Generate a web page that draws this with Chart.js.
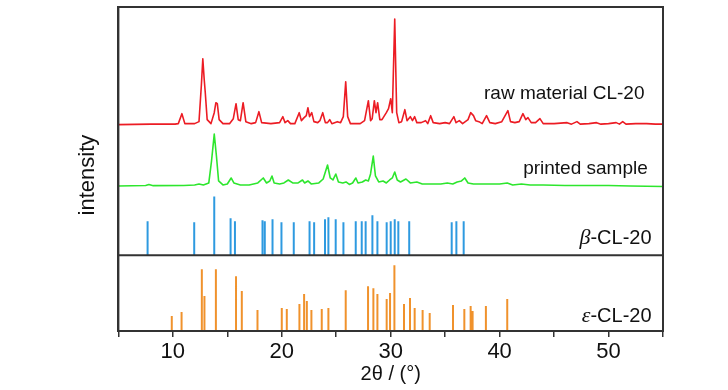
<!DOCTYPE html>
<html>
<head>
<meta charset="utf-8">
<script src="https://cdn.jsdelivr.net/npm/chart.js@4.4.0/dist/chart.umd.min.js"></script>
<style>
    html, body { margin: 0; padding: 0; background: #fff; }
    #wrap { width: 728px; height: 390px; }
</style>
</head>
<body>
<div id="wrap"><canvas id="xrd"></canvas></div>
<script>
// ==================== DATA ====================
// raw material CL-20 pattern: 2theta and relative intensity
const rawTheta = [5.0, 8.0, 10.2, 10.5, 10.83, 11.1, 12.0, 12.4, 12.62, 12.75, 12.88, 12.97, 13.15, 13.5, 13.8, 13.95, 14.08, 14.25, 14.6,
    15.2, 15.55, 15.8, 16.0, 16.2, 16.45, 16.7, 17.2, 17.6, 17.9, 18.15, 19.0, 19.8, 20.1, 20.3, 20.55, 20.8, 21.2, 21.6, 21.8,
    22.05, 22.25, 22.4, 22.55, 22.75, 22.95, 23.3, 23.5, 23.76, 24.0, 24.2, 24.4, 24.6, 25.1, 25.4, 25.65, 25.87, 26.05, 26.3,
    27.2, 27.6, 27.95, 28.15, 28.3, 28.5, 28.65, 28.8, 29.0, 29.2, 29.6, 29.8, 30.0, 30.15, 30.37, 30.55, 30.75, 31.0, 31.3,
    31.5, 31.8, 32.0, 32.2, 32.4, 32.8, 33.2, 33.4, 33.67, 33.9, 34.5, 35.0, 35.4, 35.8, 36.0, 36.3, 36.6, 37.1, 37.34, 37.6,
    37.8, 38.1, 38.4, 38.8, 39.1, 39.6, 40.2, 40.76, 41.0, 41.4, 41.8, 42.14, 42.4, 42.6, 42.9, 43.3, 43.7, 44.0, 45.0, 46.2,
    46.6, 47.1, 47.4, 48.2, 48.9, 49.3, 50.0, 50.7, 51.0, 51.3, 51.6, 52.5, 53.5, 54.3, 55.0];
const rawInt = [0, 0.5, 0.5, 1, 11, 1, 1, 3, 40, 66, 45, 33, 5, 1, 12, 22, 21, 5, 1,
    1, 6, 21, 5, 4, 22, 3, 1, 2, 13, 2, 1, 2, 8, 2, 4, 1, 1, 12, 4,
    7, 9, 17, 8, 12, 3, 2, 4, 12, 2, 2, 5, 1, 3, 2, 8, 43, 8, 1,
    1, 4, 24, 4, 6, 24, 12, 22, 5, 5, 12, 16, 26, 12, 106, 12, 2, 3, 15,
    4, 8, 4, 8, 2, 2, 4, 1, 9, 2, 1, 2, 1, 8, 2, 4, 1, 5, 12, 9,
    4, 3, 1, 9, 2, 1, 3, 14, 3, 2, 3, 11, 5, 7, 2, 2, 6, 1, 1, 2,
    0.5, 3, 0.5, 1, 2, 0.5, 1, 2, 0.5, 3, 0.5, 1, 1, 0.5, 0.5];

// printed sample pattern
const printTheta = [5.0, 7.5, 7.8, 8.2, 11.0, 12.0, 12.4, 12.8, 13.3, 13.55, 13.8, 14.0, 14.2, 14.6, 15.0, 15.35, 15.6, 16.2,
    17.0, 17.8, 18.3, 18.6, 18.9, 19.1, 19.3, 19.8, 20.2, 20.6, 21.0, 21.5, 21.9, 22.1, 22.4, 22.7, 23.4, 23.8, 24.2, 24.45,
    24.7, 24.96, 25.2, 25.6, 25.9, 26.2, 26.5, 26.8, 27.0, 27.4, 27.7, 27.95, 28.15, 28.4, 28.6, 28.9, 29.3, 29.6, 29.9,
    30.15, 30.37, 30.6, 30.9, 31.4, 31.8, 32.4, 32.9, 33.4, 34.0, 34.6, 35.2, 35.7, 36.1, 36.5, 36.8, 37.1, 37.6, 38.5,
    39.2, 40.0, 40.7, 41.2, 42.0, 42.8, 44.0, 46.0, 48.0, 50.0, 52.0, 55.0];
const printInt = [0, 0.5, 1.5, 0.3, 0.5, 1, 2, 1, 3, 25, 52, 30, 5, 1, 2, 8, 3, 1,
    1, 3, 8, 3, 5, 10, 3, 2, 3, 6, 3, 3, 6, 3, 5, 2, 3, 7, 21, 8,
    6, 12, 4, 3, 4, 1.5, 3, 8, 3, 4, 6, 5, 12, 30, 10, 4, 5, 3, 6,
    8, 14, 6, 4, 7, 3, 4, 2, 2, 2, 2, 3, 2, 4, 5, 8, 3, 2, 2,
    2, 2, 3, 1, 2, 1, 1, 0.5, 0.5, 0.5, 0, -0.5];

// beta-CL-20 reference lines
const betaTheta = [7.68, 11.96, 13.8, 15.3, 15.7, 18.23, 18.44, 19.15, 19.97, 21.1, 22.55, 22.97, 23.97, 24.28, 24.95,
    25.66, 26.79, 27.34, 27.7, 28.32, 28.78, 29.63, 30.0, 30.37, 30.7, 31.7, 35.6, 36.03, 36.7];
const betaInt = [34, 33, 59, 37, 34, 35, 34, 36, 33, 33, 34, 33, 36, 38, 36,
    33, 34, 34, 34, 40, 34, 33, 34, 36, 34, 34, 33, 34, 34];

// epsilon-CL-20 reference lines
const epsTheta = [9.9, 10.8, 12.66, 12.9, 13.95, 15.8, 16.33, 17.77, 20.0, 20.46, 21.62, 22.05, 22.3, 22.72, 23.67, 24.28,
    25.87, 27.92, 28.41, 28.78, 29.63, 29.94, 30.34, 31.22, 31.77, 32.2, 32.93, 33.58, 35.72, 36.76, 37.34, 37.52,
    38.74, 40.7];
const epsInt = [15, 19, 62, 35, 62, 55, 40, 21, 23, 22, 27, 37, 30, 21, 22, 23,
    41, 45, 43, 37, 32, 38, 66, 27, 33, 23, 21, 18, 26, 22, 25, 20,
    25, 32];

const xTicks = [10, 20, 30, 40, 50];

// ==================== LAYOUT (vertical offsets of each trace) ====================
const Y_MAX = 325;
const RAW_BASE = 207;
const PRINT_BASE = 145.5;
const BETA_BASE = 76;     // also the panel divider
const EPS_BASE = 0;

const FONT = '"Liberation Sans", Arial, sans-serif';
const NARROW = '"Liberation Sans Narrow", "Arial Narrow", "Liberation Sans", sans-serif';

function trace(theta, vals, base) {
    return theta.map((t, i) => ({ x: t, y: base + vals[i] }));
}

function sticks(theta, vals, base) {
    const pts = [];
    theta.forEach((t, i) => {
        pts.push({ x: t, y: base }, { x: t, y: base + vals[i] }, { x: t, y: null });
    });
    return pts;
}

// frame, divider and trace labels
const decorPlugin = {
    id: 'decor',
    afterDatasetsDraw(chart) {
        const { ctx, chartArea: a, scales: { x, y } } = chart;
        ctx.save();
        // divider between beta and epsilon panels
        ctx.strokeStyle = '#333';
        ctx.lineWidth = 2;
        const yd = y.getPixelForValue(BETA_BASE);
        ctx.beginPath();
        ctx.moveTo(a.left, yd);
        ctx.lineTo(a.right, yd);
        ctx.stroke();
        // box
        ctx.strokeRect(a.left, a.top, a.right - a.left, a.bottom - a.top);

        ctx.fillStyle = '#111';
        ctx.textAlign = 'right';
        ctx.textBaseline = 'alphabetic';
        ctx.font = '19px ' + FONT;
        ctx.fillText('raw material CL-20', x.getPixelForValue(53.3), y.getPixelForValue(233));
        ctx.fillText('printed sample', x.getPixelForValue(53.6), y.getPixelForValue(157));

        const greekLabel = (greek, rest, xv, yv) => {
            const px = x.getPixelForValue(xv), py = y.getPixelForValue(yv);
            ctx.font = '20px ' + FONT;
            const w = ctx.measureText(rest).width;
            ctx.fillText(rest, px, py);
            ctx.font = 'italic 22px "Liberation Serif", "Times New Roman", serif';
            ctx.fillText(greek, px - w, py);
        };
        greekLabel('\u03B2', '-CL-20', 53.95, 87);
        greekLabel('\u03B5', '-CL-20', 53.95, 9.5);
        ctx.restore();
    }
};

new Chart(document.getElementById('xrd'), {
    type: 'line',
    data: {
        datasets: [{
            label: 'raw material CL-20',
            data: trace(rawTheta, rawInt, RAW_BASE),
            borderColor: '#ec1c24',
            borderWidth: 1.6
        }, {
            label: 'printed sample',
            data: trace(printTheta, printInt, PRINT_BASE),
            borderColor: '#2de62d',
            borderWidth: 1.6
        }, {
            label: 'beta-CL-20',
            data: sticks(betaTheta, betaInt, BETA_BASE),
            borderColor: '#2e9ae0',
            borderWidth: 2,
            spanGaps: false
        }, {
            label: 'epsilon-CL-20',
            data: sticks(epsTheta, epsInt, EPS_BASE),
            borderColor: '#f0922c',
            borderWidth: 2,
            spanGaps: false
        }]
    },
    options: {
        responsive: true,
        maintainAspectRatio: false,
        animation: false,
        layout: { padding: { left: 75, right: 65, top: 7, bottom: 6 } },
        elements: {
            point: { radius: 0, hoverRadius: 0 },
            line: { tension: 0, borderCapStyle: 'butt', borderJoinStyle: 'round' }
        },
        plugins: {
            legend: { display: false },
            tooltip: { enabled: false }
        },
        scales: {
            x: {
                type: 'linear',
                min: 5,
                max: 55,
                border: { display: true, color: '#333', width: 2 },
                grid: { drawOnChartArea: false, drawTicks: true, tickLength: 6, color: '#333', lineWidth: 1.5 },
                ticks: {
                    stepSize: 5,
                    autoSkip: false,
                    maxRotation: 0,
                    padding: 4,
                    color: '#111',
                    font: { family: NARROW, size: 22, lineHeight: 1 },
                    callback: v => (xTicks.includes(v) ? v : '')
                },
                title: {
                    display: true,
                    text: '2\u03B8 / (\u00B0)',
                    color: '#111',
                    font: { family: FONT, size: 20, lineHeight: 1 },
                    padding: { top: -3, bottom: 0 }
                }
            },
            y: {
                min: 0,
                max: Y_MAX,
                border: { display: true, color: '#333', width: 2 },
                grid: { display: false, drawTicks: false },
                ticks: { display: false },
                title: {
                    display: true,
                    text: 'intensity  ',
                    color: '#111',
                    font: { family: FONT, size: 22 },
                    padding: { top: 0, bottom: 17 }
                }
            }
        }
    },
    plugins: [decorPlugin]
});
</script>
</body>
</html>
